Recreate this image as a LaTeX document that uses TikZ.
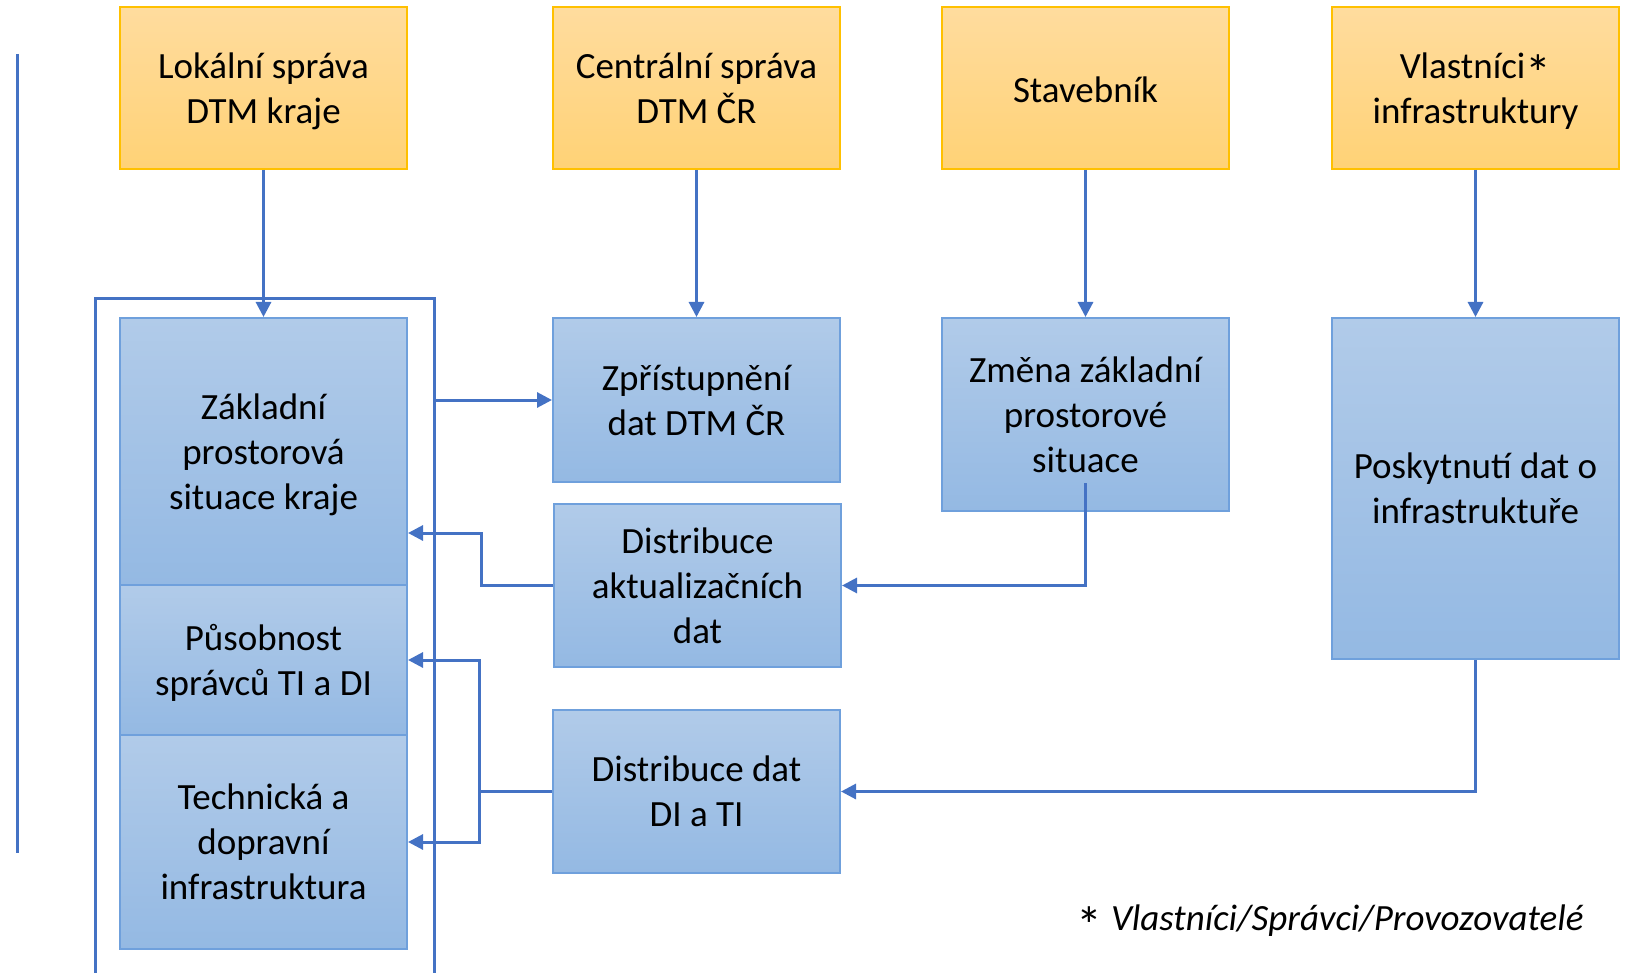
\documentclass[tikz,border=0pt]{standalone}
\usepackage{fontspec}
\setmainfont{Carlito}
\usetikzlibrary{arrows.meta,calc}
\definecolor{orTop}{HTML}{FFDC9E}
\definecolor{orBot}{HTML}{FFD276}
\definecolor{orLine}{HTML}{FFC000}
\definecolor{blTop}{HTML}{B1CBE9}
\definecolor{blBot}{HTML}{94B9E3}
\definecolor{blLine}{HTML}{6FA0DC}
\definecolor{conn}{HTML}{4472C4}
% struts that fix where a label block sits inside its box
\newcommand\labelstrut{\vrule width0pt height40pt depth0pt}
\newcommand\onelinestrut{\vrule width0pt height34pt depth5pt}
\newcommand\bigstar{\smash{\raisebox{-13pt}{\scalebox{1.4}{*}}}}
\tikzset{
  box/.style={rectangle, draw, line width=2pt, inner sep=0pt, align=center,
    font={\fontsize{37}{45}\selectfont\lineskiplimit=-100pt}, text=black},
  multi/.style={text depth=-5.4pt, execute at begin node=\labelstrut},
  single/.style={execute at begin node=\onelinestrut, execute at end node=\onelinestrut},
  actor/.style={box, draw=orLine, top color=orTop, bottom color=orBot},
  task/.style={box, multi, draw=blLine, top color=blTop, bottom color=blBot},
  link/.style={draw=conn, line width=3pt, -{Triangle[length=15pt,width=15pt]}},
  plain/.style={draw=conn, line width=3pt},
}
\begin{document}
\begin{tikzpicture}[x=1pt,y=-1pt]
\useasboundingbox (0,0) rectangle (1635,973);

% actors in the top row
\node[actor, multi, minimum width=287pt, minimum height=162pt] (lok) at (263.5,88) {Lokální správa\\DTM kraje};
\node[actor, multi, minimum width=287pt, minimum height=162pt] (cen) at (696.5,88) {Centrální správa\\DTM ČR};
\node[actor, single, minimum width=287pt, minimum height=162pt] (sta) at (1085.5,88) {Stavebník};
\node[actor, multi, minimum width=287pt, minimum height=162pt] (vla) at (1475.5,88) {Vlastníci\bigstar\\infrastruktury};

% regional data column
\node[task, minimum width=287pt, minimum height=267pt] (zak) at (263.5,451.5) {Základní\\prostorová\\situace kraje};
\node[task, minimum width=287pt, minimum height=150pt] (pus) at (263.5,660) {Působnost\\správců TI a DI};
\node[task, minimum width=287pt, minimum height=214pt] (tech) at (263.5,842) {Technická a\\dopravní\\infrastruktura};

% processes
\node[task, minimum width=287pt, minimum height=164pt] (zpr) at (696.5,400) {Zpřístupnění\\dat DTM ČR};
\node[task, minimum width=287pt, minimum height=163pt] (dak) at (697.5,585.5) {Distribuce\\aktualizačních\\dat};
\node[task, minimum width=287pt, minimum height=163pt] (ddt) at (696.5,791.5) {Distribuce dat\\DI a TI};
\node[task, minimum width=287pt, minimum height=193pt] (zme) at (1085.5,414.5) {Změna základní\\prostorové\\situace};
\node[task, minimum width=287pt, minimum height=341pt] (pos) at (1475.5,488.5) {Poskytnutí dat o\\infrastruktuře};

% frame around the regional column and the side rule
\draw[plain] (95,973) -- (95,299) -- (434,299) -- (434,973);
\draw[plain] (17,54) -- (17,853);
\coordinate (frameR) at (434,400);

% connectors
\draw[link] (lok.south) -- (zak.north);
\draw[link] (cen.south) -- (zpr.north);
\draw[link] (sta.south) -- (zme.north);
\draw[link] (vla.south) -- (pos.north);
\draw[link] (frameR) -- (zpr.west);
\draw[link] (dak.west) -- (481,585.5) -- (481,533) -- (zak.east |- 0,533);
\coordinate (zmeStart) at ($(zme.south)+(0,-29)$);
\draw[link] (zmeStart) -- (zmeStart |- dak.east) -- (dak.east);
\draw[link] (pos.south) -- (pos.south |- ddt.east) -- (ddt.east);
\draw[plain] (ddt.west) -- (479,791.5);
\draw[link] (479,791.5) -- (479,660) -- (pus.east);
\draw[link] (479,791.5) -- (479,842) -- (tech.east);

% footnote
\node[anchor=base west, inner sep=0pt, font=\fontsize{37}{45}\selectfont] (note) at (1076,930) {\bigstar\hspace{9pt}\textit{Vlastníci/Správci/Provozovatelé}};
\end{tikzpicture}
\end{document}
